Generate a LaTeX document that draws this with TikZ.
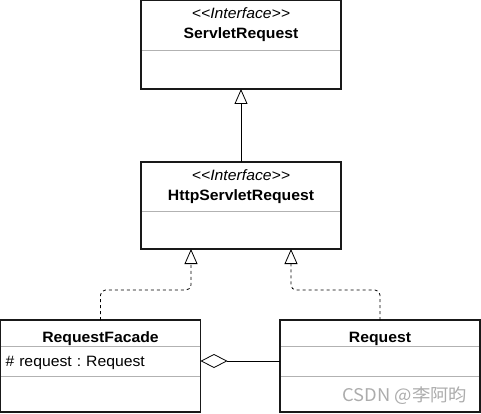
\documentclass[tikz,border=0pt]{standalone}
\usepackage{fontspec}
\setmainfont{Liberation Sans}[FakeStretch=1.05,Ligatures=TeXOff]
\newfontfamily\cjk{Noto Sans CJK SC}[FakeStretch=1.05]
\usetikzlibrary{positioning,arrows.meta}
\frenchspacing

\tikzset{
  cls/.style={draw=gray!60,line width=0.6pt,minimum width=200pt,inner sep=0pt,outer sep=0pt,
    align=center,font=\fontsize{15}{20}\selectfont},
  hdr/.style={cls,minimum height=26pt,text height=19pt,text depth=0pt},
  clsframe/.style={draw=black!90,line width=1.4pt},
  gen/.style={-{Triangle[open,length=15pt,width=13pt,fill=white]},line width=0.8pt},
  real/.style={gen,dash pattern=on 3pt off 3pt,rounded corners=5pt},
  agg/.style={-{Diamond[open,length=27pt,width=14pt,fill=white]},line width=0.8pt}
}

\begin{document}
\begin{tikzpicture}[x=1pt,y=-1pt]
\useasboundingbox (0,0) rectangle (481,414);

\node[cls,minimum height=50pt,anchor=north west](sr) at (141,0) {\textit{\textless\kern0pt\textless Interface\textgreater\kern0pt\textgreater}\\\textbf{ServletRequest}};
\node[cls,minimum height=39pt,below=0pt of sr](srb){};

\node[cls,minimum height=49pt,anchor=north west](hsr) at (141,162) {\textit{\textless\kern0pt\textless Interface\textgreater\kern0pt\textgreater}\\\textbf{HttpServletRequest}};
\node[cls,minimum height=38pt,below=0pt of hsr](hsrb){};

\node[hdr,anchor=north west](rf) at (0.5,320) {\textbf{RequestFacade}};
\node[cls,minimum height=30pt,below=0pt of rf,text width=190pt,inner xsep=5pt,align=left,
  text height=10pt,text depth=0pt](rfa){\# request : Request};
\node[cls,minimum height=36pt,below=0pt of rfa](rfm){};

\node[hdr,anchor=north west](req) at (280,320) {\textbf{Request}};
\node[cls,minimum height=30pt,below=0pt of req](reqa){};
\node[cls,minimum height=36pt,below=0pt of reqa](reqm){};

\draw[clsframe](sr.north west) rectangle (srb.south east);
\draw[clsframe](hsr.north west) rectangle (hsrb.south east);
\draw[clsframe](rf.north west) rectangle (rfm.south east);
\draw[clsframe](req.north west) rectangle (reqm.south east);

\draw[gen](hsr.north)--(srb.south);
\draw[real](rf.north)--++(0,-30)-|([xshift=-50pt]hsrb.south);
\draw[real](req.north)--++(0,-30)-|([xshift=50pt]hsrb.south);
\draw[agg](reqa.west)--(rfa.east);

\node[text=gray!65,font=\cjk\fontsize{17.5}{20}\selectfont](mark) at (405,396) {CSDN @李阿昀};
\end{tikzpicture}
\end{document}
